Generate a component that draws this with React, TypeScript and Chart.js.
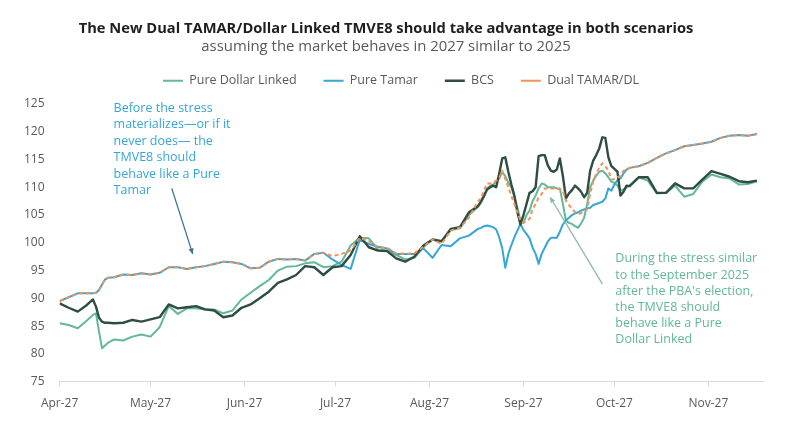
import { Chart, registerables } from "chart.js";
import { useEffect, useRef } from "react";

Chart.register(...registerables);

// days since 1 Apr 2027
const days = [
    0, 3, 6, 9, 11, 12, 13, 14, 15, 16, 18, 21, 24, 27, 30, 33, 36, 39, 42, 45,
    48, 51, 54, 57, 60, 63, 66, 69, 72, 75, 78, 81, 84, 87, 90, 93, 96, 99, 102, 105,
    108, 111, 114, 117, 120, 123, 126, 129, 132, 135,
    138, 139, 140, 141, 142, 143, 144, 145, 146, 147, 148, 149, 150, 151, 152, 153, 154,
    155, 156, 157, 158, 159, 160, 161, 162, 163, 164, 165, 166, 167, 168, 169, 170, 171,
    172, 173, 174, 175, 176, 177, 178, 179, 180, 181, 182, 183, 184, 185, 186, 187, 188,
    191, 194, 197, 200, 203, 206, 209, 212, 215, 218, 221, 224, 227, 230
];

const pureDollarLinked = [
    85.5, 85.2, 84.6, 86.0, 87.0, 87.3, 84.0, 81.0, 81.5, 82.0, 82.6, 82.4, 83.1, 83.5, 83.1, 84.8, 88.6, 87.2, 88.2, 88.2,
    88.0, 88.0, 87.3, 87.8, 89.8, 91.0, 92.2, 93.3, 95.0, 95.7, 95.8, 96.3, 96.5, 95.6, 95.8, 96.6, 99.5, 100.9, 100.8, 98.8,
    98.6, 97.8, 97.0, 97.3, 99.2, 100.6, 100.2, 102.3, 102.6, 105.0,
    106.5, 107.2, 108.3, 109.8, 110.3, 110.5, 111.0, 111.6, 112.7, 112.0, 110.8, 110.0, 108.3, 106.3, 104.0, 103.6, 105.0,
    105.8, 107.5, 108.5, 109.8, 110.7, 110.5, 110.0, 110.0, 110.0, 109.8, 109.8, 107.0, 104.0, 103.6, 103.4, 103.0, 102.7,
    103.5, 104.5, 107.0, 110.0, 111.2, 112.1, 112.8, 113.0, 112.5, 111.8, 111.0, 110.8, 110.3, 109.4, 109.6, 110.0, 110.3,
    111.8, 111.2, 108.9, 109.0, 110.3, 108.3, 108.8, 111.0, 112.3, 111.8, 111.6, 110.5, 110.6, 111.1
];

const pureTamar = [
    89.5, 90.2, 90.9, 90.9, 90.9, 91.0, 91.5, 92.5, 93.4, 93.7, 93.8, 94.3, 94.2, 94.5, 94.3, 94.6, 95.6, 95.6, 95.3, 95.6,
    95.8, 96.2, 96.6, 96.5, 96.2, 95.4, 95.5, 96.6, 97.1, 97.0, 97.1, 96.8, 98.0, 98.2, 97.0, 96.0, 95.3, 100.5, 99.8, 99.3,
    99.0, 98.0, 98.0, 98.0, 99.0, 97.3, 99.6, 99.4, 100.8, 101.3,
    102.5, 102.7, 103.0, 103.1, 103.0, 102.8, 102.4, 101.0, 99.0, 95.5, 98.0, 99.6, 101.0, 102.2, 103.4, 102.3, 101.6,
    100.8, 99.1, 98.0, 96.2, 98.0, 99.1, 100.2, 100.9, 100.9, 100.9, 102.0, 103.3, 104.1, 104.5, 105.0, 105.3, 105.5,
    105.8, 106.0, 106.2, 106.3, 106.8, 107.0, 107.2, 107.4, 108.0, 109.8, 109.4, 110.5, 111.3, 111.6, 112.5, 113.2, 113.5,
    113.8, 114.4, 115.3, 116.1, 116.7, 117.4, 117.6, 117.9, 118.2, 118.9, 119.3, 119.4, 119.3, 119.6
];

const bcs = [
    89.1, 88.3, 87.6, 88.8, 89.8, 88.5, 86.5, 85.8, 85.6, 85.6, 85.5, 85.6, 86.1, 85.8, 86.2, 86.6, 88.9, 88.2, 88.4, 88.6,
    88.0, 87.8, 86.6, 86.9, 88.3, 88.9, 90.0, 91.2, 92.8, 93.4, 94.2, 95.8, 95.6, 94.2, 95.6, 95.8, 97.8, 101.2, 99.2, 98.6,
    98.5, 97.2, 96.6, 97.5, 99.5, 100.6, 100.3, 102.5, 102.8, 105.5,
    106.6, 107.5, 108.5, 109.6, 110.0, 110.3, 110.0, 112.5, 115.2, 115.4, 112.8, 110.5, 108.5, 105.5, 103.3, 105.0, 107.0,
    109.0, 109.3, 110.0, 115.6, 115.8, 115.8, 114.0, 113.0, 112.8, 113.2, 115.2, 112.0, 108.0, 108.9, 109.5, 110.3, 109.8,
    109.2, 108.2, 109.0, 113.0, 114.8, 115.8, 117.0, 119.0, 118.9, 115.4, 113.8, 113.3, 112.8, 108.5, 109.2, 110.3, 110.2,
    111.8, 111.8, 109.0, 109.0, 110.7, 109.8, 109.8, 111.4, 112.9, 112.4, 111.9, 111.1, 110.9, 111.2
];

const dualTamarDl = [
    89.5, 90.2, 90.9, 90.9, 90.9, 91.0, 91.5, 92.5, 93.4, 93.7, 93.8, 94.3, 94.2, 94.5, 94.3, 94.6, 95.6, 95.6, 95.3, 95.6,
    95.8, 96.2, 96.6, 96.5, 96.2, 95.4, 95.5, 96.6, 97.1, 97.0, 97.1, 96.8, 98.0, 98.2, 97.6, 98.0, 98.6, 100.9, 100.3, 99.2,
    99.1, 98.1, 98.0, 98.1, 99.3, 100.6, 99.8, 102.2, 102.7, 104.5,
    107.5, 108.0, 109.5, 110.7, 110.7, 110.8, 111.2, 111.6, 113.0, 111.5, 110.0, 108.5, 107.0, 105.5, 104.0, 103.6, 104.0,
    104.3, 106.0, 107.0, 108.2, 108.8, 109.8, 109.8, 109.8, 109.8, 109.8, 109.6, 109.4, 107.6, 106.8, 106.2, 105.5, 105.3,
    105.3, 105.8, 106.0, 108.9, 111.0, 112.5, 113.5, 114.3, 113.8, 113.0, 111.4, 111.5, 111.8, 112.0, 113.0, 113.2, 113.5,
    113.8, 114.4, 115.3, 116.1, 116.7, 117.4, 117.6, 117.9, 118.2, 118.9, 119.3, 119.4, 119.3, 119.6
];

const monthStarts = [0, 30, 61, 91, 122, 153, 183, 214];
const monthLabels = ["Apr-27", "May-27", "Jun-27", "Jul-27", "Aug-27", "Sep-27", "Oct-27", "Nov-27"];

const tamarNote = [
    "Before the stress",
    "materializes\u2014or if it",
    "never does\u2014 the",
    "TMVE8 should",
    "behave like a Pure",
    "Tamar"
];

const dollarNote = [
    "During the stress similar",
    "to the September 2025",
    "after the PBA's election,",
    "the TMVE8 should",
    "behave like a Pure",
    "Dollar Linked"
];

const GREEN = "#62b898";
const BLUE = "#35a6d6";
const DARK = "#2f4d42";
const ORANGE = "#f0925a";
const GREY = "#595959";

function points(values: number[]) {
    return days.map((d, i) => ({ x: d, y: values[i] }));
}

function arrow(ctx: CanvasRenderingContext2D, x1: number, y1: number, x2: number, y2: number, color: string) {
    const a = Math.atan2(y2 - y1, x2 - x1);
    ctx.strokeStyle = color;
    ctx.fillStyle = color;
    ctx.lineWidth = 1.3;
    ctx.beginPath();
    ctx.moveTo(x1, y1);
    ctx.lineTo(x2, y2);
    ctx.stroke();
    ctx.beginPath();
    ctx.moveTo(x2, y2);
    ctx.lineTo(x2 - 6 * Math.cos(a - 0.45), y2 - 6 * Math.sin(a - 0.45));
    ctx.lineTo(x2 - 6 * Math.cos(a + 0.45), y2 - 6 * Math.sin(a + 0.45));
    ctx.closePath();
    ctx.fill();
}

// wider legend items, nudged up and centred on the page
const legendTweak = {
    id: "legendTweak",
    beforeInit(chart: any) {
        const fit = chart.legend.fit;
        chart.legend.fit = function () {
            fit.bind(chart.legend)();
            this.height -= 1;
        };
    },
    afterLayout(chart: any) {
        const l = chart.legend;
        l.top -= 8;
        l.bottom -= 8;
        l.left += 15;
        l.right += 15;
    }
};

const notesPlugin = {
    id: "notes",
    afterDatasetsDraw(chart: any) {
        const { ctx, scales } = chart;
        const x = scales.x;
        const y = scales.y;
        ctx.save();
        ctx.font = '12.5px "Open Sans", sans-serif';
        ctx.textBaseline = "middle";
        ctx.textAlign = "left";

        ctx.fillStyle = BLUE;
        tamarNote.forEach((t, i) => {
            ctx.fillText(t, x.getPixelForValue(17.8), y.getPixelForValue(124.2) + i * 16.4);
        });
        ctx.fillStyle = GREEN;
        dollarNote.forEach((t, i) => {
            ctx.fillText(t, x.getPixelForValue(183.3), y.getPixelForValue(97.1) + i * 16.2);
        });

        arrow(ctx, x.getPixelForValue(37), y.getPixelForValue(109.8), x.getPixelForValue(43.9), y.getPixelForValue(98.0), "#3d7290");
        arrow(ctx, x.getPixelForValue(179), y.getPixelForValue(92.6), x.getPixelForValue(161.8), y.getPixelForValue(108.2), "#8db8a4");
        ctx.restore();
    }
};

export default function App() {
    const chartRef = useRef<HTMLCanvasElement | null>(null);

    useEffect(() => {
        if (!chartRef.current) return;
        Chart.defaults.font.family = '"Open Sans", sans-serif';
        const chartInstance = new Chart(chartRef.current, {
            type: "line",
            data: {
                datasets: [
                    {
                        label: "Pure Dollar Linked",
                        data: points(pureDollarLinked),
                        borderColor: GREEN,
                        backgroundColor: GREEN,
                        borderWidth: 2,
                        order: 3
                    },
                    {
                        label: "Pure Tamar",
                        data: points(pureTamar),
                        borderColor: BLUE,
                        backgroundColor: BLUE,
                        borderWidth: 2,
                        order: 2
                    },
                    {
                        label: "BCS",
                        data: points(bcs),
                        borderColor: DARK,
                        backgroundColor: DARK,
                        borderWidth: 2.4,
                        order: 1
                    },
                    {
                        label: "Dual TAMAR/DL",
                        data: points(dualTamarDl),
                        borderColor: ORANGE,
                        backgroundColor: ORANGE,
                        borderWidth: 2,
                        borderDash: [4, 3],
                        order: 0
                    }
                ]
            },
            options: {
                animation: false,
                responsive: true,
                maintainAspectRatio: false,
                elements: {
                    point: { radius: 0 },
                    line: { tension: 0, borderJoinStyle: "round" }
                },
                layout: { padding: { left: 9, right: 37, top: 0, bottom: 14 } },
                plugins: {
                    title: {
                        display: true,
                        text: "The New Dual TAMAR/Dollar Linked TMVE8 should take advantage in both scenarios",
                        color: "#1e1e1e",
                        font: { size: 14.7, weight: "bold" },
                        padding: { top: 20, bottom: 0 }
                    },
                    subtitle: {
                        display: true,
                        text: "assuming the market behaves in 2027 similar to 2025",
                        color: GREY,
                        font: { size: 14.9 },
                        padding: { top: 0, bottom: 0 }
                    },
                    legend: {
                        labels: {
                            color: GREY,
                            font: { size: 12.5 },
                            usePointStyle: true,
                            pointStyle: "line",
                            pointStyleWidth: 20,
                            boxWidth: 20,
                            padding: 27,
                            sort: (a: any, b: any) => a.datasetIndex - b.datasetIndex
                        }
                    },
                    tooltip: { enabled: false }
                },
                scales: {
                    x: {
                        type: "linear",
                        min: 0,
                        max: 232,
                        afterBuildTicks: (axis: any) => {
                            axis.ticks = monthStarts.map((v) => ({ value: v }));
                        },
                        ticks: {
                            autoSkip: false,
                            maxRotation: 0,
                            padding: 10,
                            color: GREY,
                            font: { size: 12 },
                            callback: (value: any) => monthLabels[monthStarts.indexOf(Number(value))]
                        },
                        grid: { drawOnChartArea: false, tickLength: 5, color: "#d9d9d9" },
                        border: { display: true, color: "#d9d9d9" }
                    },
                    y: {
                        min: 75,
                        max: 125,
                        ticks: { stepSize: 5, padding: 15, color: GREY, font: { size: 12 } },
                        grid: { display: false, drawTicks: false },
                        border: { display: false }
                    }
                }
            },
            plugins: [notesPlugin, legendTweak]
        });
        return () => {
            chartInstance.destroy();
        };
    }, []);

    return (
        <div style={{ position: "fixed", left: 0, top: 0, width: 800, height: 435, background: "#ffffff" }}>
            <canvas ref={chartRef} />
        </div>
    );
}
